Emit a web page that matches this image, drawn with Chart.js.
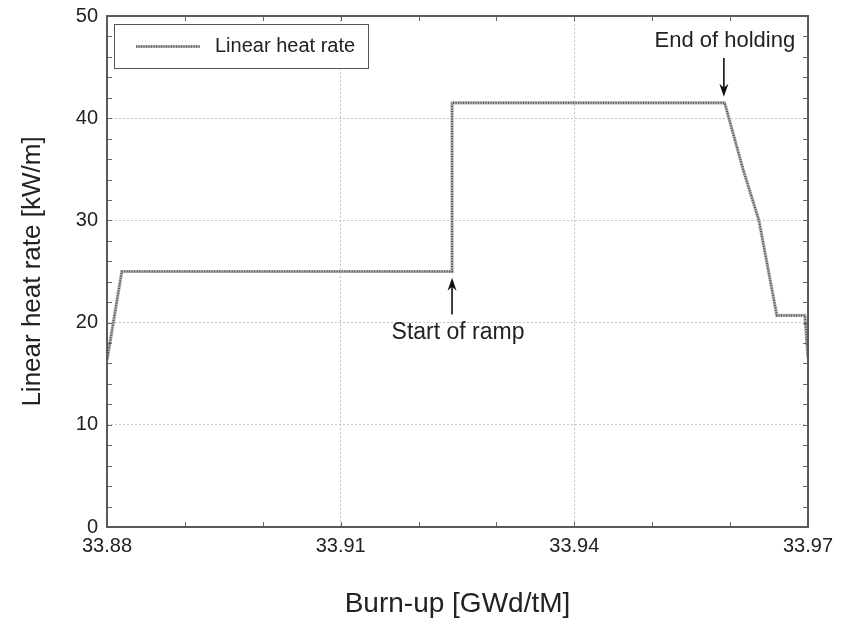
<!DOCTYPE html>
<html>
<head>
<meta charset="utf-8">
<script src="https://cdn.jsdelivr.net/npm/chart.js@4.4.1/dist/chart.umd.min.js"></script>
<style>
  html, body { margin: 0; padding: 0; background: #fff; }
  #wrap { width: 843px; height: 623px; }
</style>
</head>
<body>
<div id="wrap"><canvas id="heatChart" width="843" height="623"></canvas></div>
<script>
// 연소도 (x) 와 선출력 (y)
const burnup   = [33.8800, 33.8819, 33.9243, 33.9243, 33.9593, 33.9617, 33.9637, 33.9660, 33.9696, 33.9700];
const heatRate = [16.3,    25.0,    25.0,    41.5,    41.5,    34.9,    30.0,    20.7,    20.7,    16.5];

const xTickLabels = ['33.88', '33.91', '33.94', '33.97'];
const yTickLabels = ['0', '10', '20', '30', '40', '50'];

// 주석 (라벨, 화살표 x, 화살표 시작 y, 화살표 끝 y, 텍스트 y)
const noteLabels = ['Start of ramp', 'End of holding'];
const noteX      = [33.9243, 33.9592];
const noteFrom   = [20.8, 45.9];
const noteTo     = [24.4, 42.1];
const noteTextY  = [19.0, 47.6];

const seriesLabel = 'Linear heat rate';

const points = burnup.map((b, i) => ({ x: b, y: heatRate[i] }));
const FONT = "'Liberation Sans', Arial, sans-serif";

// 안쪽 눈금 + 테두리
const frameTicks = {
  id: 'frameTicks',
  afterDraw(chart) {
    const { ctx, chartArea: a, scales } = chart;
    ctx.save();
    ctx.strokeStyle = '#666';
    ctx.lineWidth = 1;
    const len = 5;
    scales.x.ticks.forEach(t => {
      const px = Math.round(scales.x.getPixelForValue(t.value)) + 0.5;
      ctx.beginPath();
      ctx.moveTo(px, a.bottom); ctx.lineTo(px, a.bottom - len);
      ctx.moveTo(px, a.top); ctx.lineTo(px, a.top + len);
      ctx.stroke();
    });
    scales.y.ticks.forEach(t => {
      const py = Math.round(scales.y.getPixelForValue(t.value)) + 0.5;
      ctx.beginPath();
      ctx.moveTo(a.left, py); ctx.lineTo(a.left + len, py);
      ctx.moveTo(a.right, py); ctx.lineTo(a.right - len, py);
      ctx.stroke();
    });
    ctx.strokeStyle = '#5a5a5a';
    ctx.lineWidth = 2;
    ctx.strokeRect(a.left, a.top, a.right - a.left, a.bottom - a.top);
    ctx.restore();
  }
};

// 범례 박스
const boxLegend = {
  id: 'boxLegend',
  afterDraw(chart) {
    const { ctx, chartArea: a } = chart;
    ctx.save();
    const bx = a.left + 7, by = a.top + 8, bw = 254, bh = 44;
    ctx.fillStyle = '#fff';
    ctx.fillRect(bx, by, bw, bh);
    ctx.strokeStyle = '#555';
    ctx.lineWidth = 1;
    ctx.strokeRect(bx + 0.5, by + 0.5, bw, bh);
    const ly = by + bh / 2 + 0.5;
    ctx.beginPath();
    ctx.strokeStyle = '#b4b4b4';
    ctx.lineWidth = 3;
    ctx.moveTo(bx + 22, ly); ctx.lineTo(bx + 86, ly);
    ctx.stroke();
    ctx.beginPath();
    ctx.strokeStyle = '#4a4a4a';
    ctx.lineWidth = 2;
    ctx.setLineDash([1, 1.5]);
    ctx.moveTo(bx + 22, ly); ctx.lineTo(bx + 86, ly);
    ctx.stroke();
    ctx.setLineDash([]);
    ctx.fillStyle = '#222';
    ctx.font = '20px ' + FONT;
    ctx.textBaseline = 'middle';
    ctx.textAlign = 'left';
    ctx.fillText(seriesLabel, bx + 101, ly);
    ctx.restore();
  }
};

// 화살표 주석
const arrowNotes = {
  id: 'arrowNotes',
  afterDraw(chart) {
    const { ctx, scales: { x, y } } = chart;
    ctx.save();
    ctx.strokeStyle = '#111';
    ctx.lineWidth = 1.6;
    noteLabels.forEach((lab, i) => {
      const px = x.getPixelForValue(noteX[i]);
      const y0 = y.getPixelForValue(noteFrom[i]);
      const y1 = y.getPixelForValue(noteTo[i]);
      const dir = y1 < y0 ? 1 : -1;
      ctx.beginPath();
      ctx.moveTo(px, y0); ctx.lineTo(px, y1 + dir * 6);
      ctx.stroke();
      ctx.fillStyle = '#111';
      ctx.beginPath();
      ctx.moveTo(px, y1);
      ctx.lineTo(px - 4.5, y1 + dir * 13);
      ctx.lineTo(px, y1 + dir * 9);
      ctx.lineTo(px + 4.5, y1 + dir * 13);
      ctx.closePath();
      ctx.fill();
      ctx.font = (i === 0 ? '23px ' : '22px ') + FONT;
      ctx.textAlign = 'center';
      ctx.textBaseline = 'middle';
      ctx.fillStyle = '#222';
      ctx.fillText(lab, i === 0 ? px + 6 : px + 1, y.getPixelForValue(noteTextY[i]));
    });
    ctx.restore();
  }
};

const isMajorX = v => Math.abs(Math.round((v - 33.88) / 0.01)) % 3 === 0;
const isMajorY = v => Math.round(v) % 10 === 0;

const ctx1 = document.getElementById('heatChart');
const heatChart = new Chart(ctx1, {
  type: 'line',
  data: {
    datasets: [
    {
      // 점선 무늬 (위에 그려짐)
      label: seriesLabel + ' (pattern)',
      data: points,
      borderColor: '#4a4a4a',
      borderWidth: 2,
      borderDash: [1, 1.5],
      pointRadius: 0,
      tension: 0,
      fill: false
    },
    {
      label: seriesLabel,
      data: points,
      borderColor: '#b4b4b4',
      borderWidth: 3.2,
      pointRadius: 0,
      tension: 0,
      fill: false
    }]
  },
  options: {
    responsive: false,
    animation: false,
    layout: { padding: { top: 16, right: 35, left: 0, bottom: 0 } },
    plugins: {
      legend: { display: false },
      tooltip: { enabled: false }
    },
    scales: {
      x: {
        type: 'linear',
        min: 33.88,
        max: 33.97,
        afterFit: s => { s.height = 96; },
        afterBuildTicks: s => {
          s.ticks = [];
          for (let k = 0; k <= 9; k++) s.ticks.push({ value: +(33.88 + k * 0.01).toFixed(2) });
        },
        ticks: {
          autoSkip: false,
          maxRotation: 0,
          padding: 7,
          color: '#222',
          font: { family: FONT, size: 20 },
          callback: v => {
            const s = (+v).toFixed(2);
            return xTickLabels.includes(s) ? s : '';
          }
        },
        grid: {
          drawTicks: false,
          color: c => (c.tick && isMajorX(c.tick.value) && c.index > 0 && c.index < 9) ? '#c4c4c4' : 'transparent'
        },
        border: { display: false, dash: [2, 2] },
        title: {
          display: true,
          text: 'Burn-up [GWd/tM]',
          color: '#222',
          font: { family: FONT, size: 28 },
          padding: { top: 0, bottom: 2 }
        }
      },
      y: {
        min: 0,
        max: 50,
        afterFit: s => { s.width = 107; s.paddingTop = 0; s.paddingBottom = 0; },
        afterBuildTicks: s => {
          s.ticks = [];
          for (let v = 0; v <= 50; v += 2) s.ticks.push({ value: v });
        },
        ticks: {
          autoSkip: false,
          padding: 9,
          color: '#222',
          font: { family: FONT, size: 20 },
          callback: v => yTickLabels.includes(String(v)) ? String(v) : ''
        },
        grid: {
          drawTicks: false,
          color: c => (c.tick && isMajorY(c.tick.value) && c.tick.value > 0 && c.tick.value < 50) ? '#c4c4c4' : 'transparent'
        },
        border: { display: false, dash: [2, 2] },
        title: {
          display: true,
          text: 'Linear heat rate [kW/m]',
          color: '#222',
          font: { family: FONT, size: 26 },
          padding: { top: 17, bottom: 0 }
        }
      }
    }
  },
  plugins: [frameTicks, boxLegend, arrowNotes]
});
</script>
</body>
</html>
